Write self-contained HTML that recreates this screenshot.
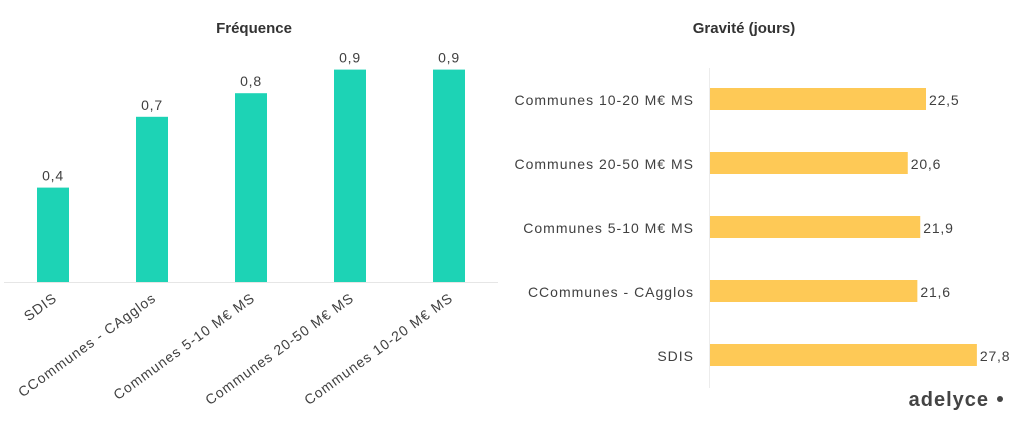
<!DOCTYPE html>
<html><head><meta charset="utf-8"><style>
body{margin:0;background:#fff;width:1024px;height:426px;overflow:hidden;font-family:"Liberation Sans",sans-serif}
text{font-family:"Liberation Sans",sans-serif}
</style></head><body>
<svg id="c" width="1024" height="426">
<text x="254" y="33" text-anchor="middle" font-size="15" font-weight="bold" fill="#333">Fréquence</text>
<text x="744" y="33" text-anchor="middle" font-size="15" font-weight="bold" fill="#333">Gravité (jours)</text>
<line x1="4" y1="282.5" x2="498" y2="282.5" stroke="#e6e6e6"/>
<line x1="709.5" y1="68" x2="709.5" y2="388" stroke="#ececec"/>
<text x="989" y="406" text-anchor="end" font-size="20" font-weight="bold" fill="#444" letter-spacing="1">adelyce</text>
<circle cx="1000" cy="399" r="3" fill="#444"/>
</svg>
<script>
const freqCats=["SDIS","CCommunes - CAgglos","Communes 5-10 M€ MS","Communes 20-50 M€ MS","Communes 10-20 M€ MS"];
const freqVals=[0.4,0.7,0.8,0.9,0.9];
const freqLabels=["0,4","0,7","0,8","0,9","0,9"];
const gravCats=["Communes 10-20 M€ MS","Communes 20-50 M€ MS","Communes 5-10 M€ MS","CCommunes - CAgglos","SDIS"];
const gravVals=[22.5,20.6,21.9,21.6,27.8];
const gravLabels=["22,5","20,6","21,9","21,6","27,8"];
const svg=document.getElementById('c');
const NS="http://www.w3.org/2000/svg";
function mk(t,a){const e=document.createElementNS(NS,t);for(const k in a)e.setAttribute(k,a[k]);svg.appendChild(e);return e;}
const fy=v=>282-v*236;
const fx=i=>53+i*99;
freqVals.forEach((v,i)=>{
 const r=mk('rect',{x:fx(i)-16,y:fy(v),width:32,height:282-fy(v),fill:'#1dd3b5'});
 
 
 const t=mk('text',{x:fx(i),y:fy(v)-7,'text-anchor':'middle','font-size':14,'letter-spacing':0.8,fill:'#404040'});
 t.textContent=freqLabels[i];
 
 
 const c=mk('text',{x:0,y:0,'text-anchor':'end','font-size':14,'letter-spacing':1,fill:'#404040',transform:`translate(${fx(i)+5},${300}) rotate(-36)`});
 c.textContent=freqCats[i];
 
 
});
const gx=v=>710+v*9.6;
const gy=i=>99+i*64;
gravVals.forEach((v,i)=>{
 const r=mk('rect',{x:710,y:gy(i)-11,width:gx(v)-710,height:22,fill:'#fec956'});
 
 
 const t=mk('text',{x:gx(v)+3,y:gy(i)+6,'font-size':14,'letter-spacing':0.8,fill:'#404040'});
 t.textContent=gravLabels[i];
 
 
 const c=mk('text',{x:694,y:gy(i)+6,'text-anchor':'end','font-size':14,'letter-spacing':1,fill:'#404040'});
 c.textContent=gravCats[i];
 
 
});
</script>
</body></html>
